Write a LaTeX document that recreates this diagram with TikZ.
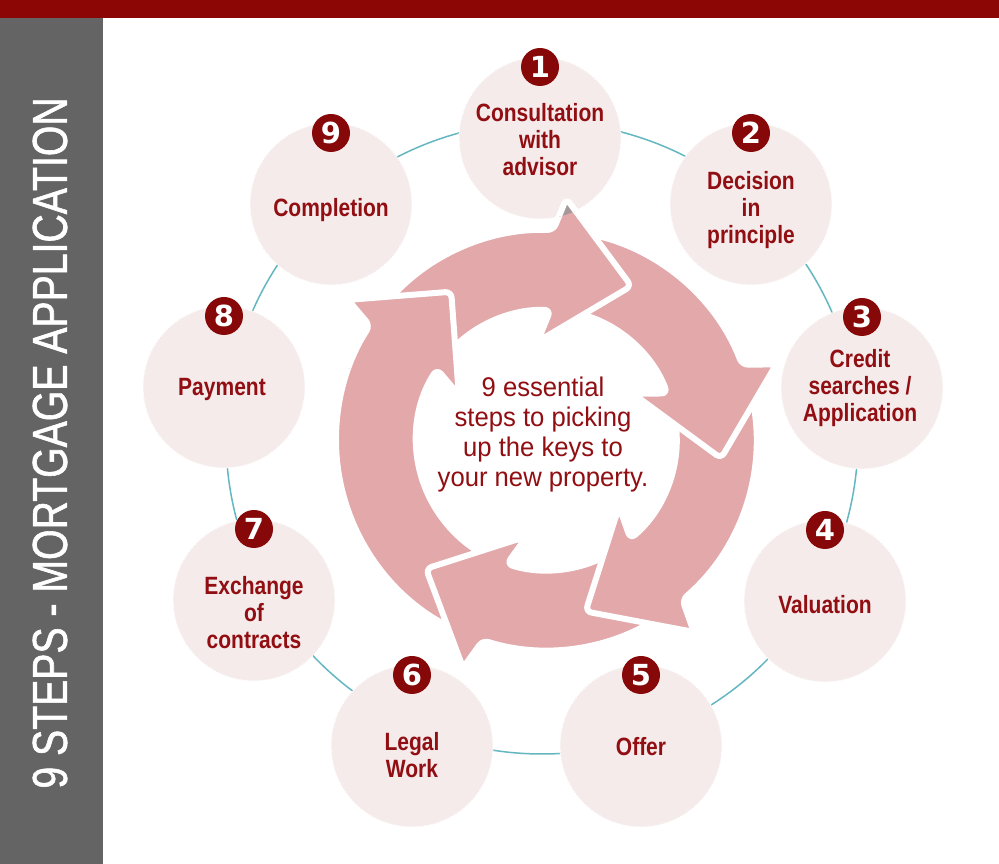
\documentclass[tikz,border=0pt]{standalone}
\usepackage{fontspec}
\setmainfont{Liberation Sans}
\newfontfamily\labelfont[FakeStretch=0.84]{Liberation Sans}
\newfontfamily\centrefont[FakeStretch=0.95]{Liberation Sans}
\newfontfamily\titlefont[FakeStretch=0.80, FakeBold=1.2]{Liberation Sans}
\newfontfamily\numfont{DejaVu Sans}
\usetikzlibrary{calc, positioning}

\definecolor{barred}{RGB}{140,6,6}
\definecolor{bargray}{RGB}{100,100,100}
\definecolor{labelred}{RGB}{145,14,18}
\definecolor{badgered}{RGB}{135,8,8}
\definecolor{stepfill}{RGB}{245,235,235}
\definecolor{arrowpink}{RGB}{226,168,170}
\definecolor{shadegray}{RGB}{165,152,154}
\definecolor{ringteal}{RGB}{100,182,192}

% ring arrow: tail angle, head base angle, tip angle
\newcommand{\arrRout}{210}
\newcommand{\arrRin}{130}
\newcommand{\arrRmid}{170}
\newcommand{\arrRtip}{176}
\newcommand{\arrHead}{73pt}
\newcommand{\ringarrow}[3]{(#1:\arrRout) arc[start angle=#1, end angle=#2, radius=\arrRout]
  -- ($(#2:\arrRmid)!\arrHead!90:(#3:\arrRtip)$) -- (#3:\arrRtip)
  -- ($(#2:\arrRmid)!\arrHead!-90:(#3:\arrRtip)$)
  -- (#2:\arrRin) arc[start angle=#2, end angle=#1, radius=\arrRin] -- cycle}

\begin{document}
\begin{tikzpicture}[x=1pt, y=1pt]
	\tikzset{
		stepcirc/.style={circle, fill=stepfill, draw=white, line width=1.2pt, dash pattern=on 1.2pt off 1.2pt, minimum size=162pt, inner sep=0pt},
		badge/.style={circle, fill=badgered, text=white, minimum size=38pt, inner sep=0pt, font=\numfont\bfseries\fontsize{29}{29}\selectfont},
		steplabel/.style={align=center, text=labelred, inner sep=0pt, font=\labelfont\bfseries\fontsize{25}{27}\selectfont},
		arrowshape/.style={fill=arrowpink, draw=white, line width=6pt, line join=round, rounded corners=6pt},
		ringline/.style={draw=ringteal, line width=1.5pt}
	}

	\useasboundingbox (0,0) rectangle (999,864);
	\fill[white] (0,0) rectangle (999,864);
	\fill[bargray] (0,0) rectangle (103,846);
	\fill[barred] (0,846) rectangle (999,864);
	\node[rotate=90, text=white, inner sep=0pt, font=\titlefont\fontsize{49}{49}\selectfont] (title) at (50,421) {9 STEPS - MORTGAGE APPLICATION};

	\coordinate (ringc) at (542,426);
	\coordinate (hub) at (546,424);
	\draw[ringline] (ringc) circle[radius=316];

	% steps
	\node[stepcirc] (step1) at (540,726) {};
	\node[stepcirc] (step2) at (751,660) {};
	\node[stepcirc] (step3) at (862,476) {};
	\node[stepcirc] (step4) at (825,263) {};
	\node[stepcirc] (step5) at (641,118) {};
	\node[stepcirc] (step6) at (412,118) {};
	\node[stepcirc] (step7) at (254,264) {};
	\node[stepcirc] (step8) at (224,477) {};
	\node[stepcirc] (step9) at (331,660) {};

	\node[steplabel] (lab1) at ([yshift=-2pt]step1.center) {Consultation\\with\\advisor};
	\node[steplabel] (lab2) at ([yshift=-6pt]step2.center) {Decision\\in\\principle};
	\node[steplabel] (lab3) at ([xshift=-2pt]step3.center) {Credit\\searches /\\Application};
	\node[steplabel] (lab4) at ([yshift=-4pt]step4.center) {Valuation};
	\node[steplabel] (lab5) at ([yshift=-1pt]step5.center) {Offer};
	\node[steplabel] (lab6) at ([yshift=-9pt]step6.center) {Legal\\Work};
	\node[steplabel] (lab7) at ([yshift=-13pt]step7.center) {Exchange\\of\\contracts};
	\node[steplabel] (lab8) at ([xshift=-2pt, yshift=-3pt]step8.center) {Payment};
	\node[steplabel] (lab9) at ([yshift=-6pt]step9.center) {Completion};

	% cycle of arrows
	\begin{scope}[shift={(hub)}]
		\draw[arrowshape] \ringarrow{247.5}{147}{122.6};
		\draw[arrowshape] \ringarrow{-54.5}{-107.5}{-133};
		\draw[arrowshape] \ringarrow{16}{-49.5}{-77};
		\draw[arrowshape] \ringarrow{83}{21}{-6};
		\draw[arrowshape] \ringarrow{142}{88}{61};
		\begin{scope}
			\clip (0,0) -- (110:270) arc[start angle=110, end angle=160, radius=270] -- cycle;
			\draw[arrowshape] \ringarrow{247.5}{147}{122.6};
		\end{scope}
	\end{scope}
	\begin{scope}
		\clip (step1.center) circle[radius=81];
		\begin{scope}[shift={(hub)}]
			\draw[arrowshape, fill=shadegray] \ringarrow{142}{88}{61};
		\end{scope}
	\end{scope}

	\node[align=center, text=labelred, font=\centrefont\fontsize{27}{30}\selectfont] (centre) at (543,429) {9 essential\\steps to picking\\up the keys to\\your new property.};

	\node[badge] (num1) at ([yshift=71pt]step1.center) {1};
	\node[badge] (num2) at ([yshift=71pt]step2.center) {2};
	\node[badge] (num3) at ([yshift=71pt]step3.center) {3};
	\node[badge] (num4) at ([yshift=71pt]step4.center) {4};
	\node[badge] (num5) at ([yshift=71pt]step5.center) {5};
	\node[badge] (num6) at ([yshift=71pt]step6.center) {6};
	\node[badge] (num7) at ([yshift=71pt]step7.center) {7};
	\node[badge] (num8) at ([yshift=71pt]step8.center) {8};
	\node[badge] (num9) at ([yshift=71pt]step9.center) {9};
\end{tikzpicture}
\end{document}
